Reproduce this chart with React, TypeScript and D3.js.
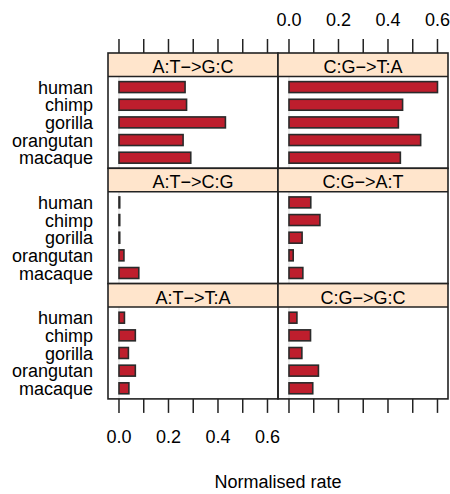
import React, { useEffect, useRef } from 'react'
import * as d3 from 'd3'

const species = ['human', 'chimp', 'gorilla', 'orangutan', 'macaque']
const mutations = ['A:T−>G:C', 'C:G−>T:A', 'A:T−>C:G', 'C:G−>A:T', 'A:T−>T:A', 'C:G−>G:C']
const atToGC = [0.267, 0.273, 0.43, 0.259, 0.29]
const cgToTA = [0.6, 0.459, 0.442, 0.532, 0.45]
const atToCG = [0.003, 0.003, 0.003, 0.02, 0.08]
const cgToAT = [0.088, 0.125, 0.053, 0.017, 0.056]
const atToTA = [0.022, 0.066, 0.038, 0.066, 0.04]
const cgToGC = [0.032, 0.087, 0.052, 0.119, 0.096]
const rates = [atToGC, cgToTA, atToCG, cgToAT, atToTA, cgToGC]
const ticks = [0, 0.1, 0.2, 0.3, 0.4, 0.5, 0.6]
const tickLabels = [0, 0.2, 0.4, 0.6]

function App() {
  const ref = useRef<SVGSVGElement>(null)

  useEffect(() => {
    const svg = d3.select(ref.current)
    svg.selectAll('*').remove()
    const width = 450
    const height = 494
    const left = 108
    const panelW = 170
    const top = 53
    const stripH = 23.5
    const bodyH = 91.8
    const font = 'Liberation Sans, Arial, Helvetica, sans-serif'

    svg.append('rect').attr('width', width).attr('height', height).attr('fill', 'white')

    mutations.forEach((m, i) => {
      const col = i % 2
      const row = Math.floor(i / 2)
      const x0 = left + col * panelW
      const y0 = top + row * (stripH + bodyH)
      const x = d3.scaleLinear().domain([-0.0444, 0.6425]).range([x0, x0 + panelW])
      const y = d3.scaleBand().domain(species).range([y0 + stripH, y0 + stripH + bodyH]).padding(0.4 / 1.04)
      // lattice factor padding: keep band centres at 0.6 + i steps
      const step = bodyH / 5.2
      const cy = (k: number) => y0 + stripH + step * (0.6 + k)
      const g = svg.append('g')

      g.append('rect')
        .attr('x', x0).attr('y', y0).attr('width', panelW).attr('height', stripH)
        .attr('fill', '#ffe5cc')
      g.append('text')
        .attr('x', x0 + panelW / 2).attr('y', y0 + stripH - 3.5)
        .attr('text-anchor', 'middle')
        .style('font-family', font).style('font-size', '18px')
        .text(m)

      g.append('line')
        .attr('x1', x(0)).attr('x2', x(0))
        .attr('y1', y0 + stripH).attr('y2', y0 + stripH + bodyH)
        .attr('stroke', '#e6e6e6').attr('stroke-width', 1.5)

      const bh = step * 0.62
      g.selectAll('rect.bar')
        .data(rates[i])
        .enter()
        .append('rect')
        .attr('class', 'bar')
        .attr('x', x(0))
        .attr('y', (d, k) => cy(k) - bh / 2)
        .attr('width', d => x(d) - x(0))
        .attr('height', bh)
        .attr('fill', '#be1e2d')
        .attr('stroke', '#2a2a2a')
        .attr('stroke-width', 1.6)

      g.append('line')
        .attr('x1', x0).attr('x2', x0 + panelW)
        .attr('y1', y0 + stripH).attr('y2', y0 + stripH)
        .attr('stroke', '#222').attr('stroke-width', 1.5)
      g.append('rect')
        .attr('x', x0).attr('y', y0).attr('width', panelW).attr('height', stripH + bodyH)
        .attr('fill', 'none').attr('stroke', '#222').attr('stroke-width', 1.6)

      if (col === 0) {
        g.selectAll('text.cat')
          .data(species)
          .enter()
          .append('text')
          .attr('x', 93)
          .attr('y', (d, k) => cy(k) + 6.5)
          .attr('text-anchor', 'end')
          .style('font-family', font).style('font-size', '18px')
          .text(d => d)
      }

      if (row === 0 || row === 2) {
        const ty = row === 0 ? y0 : y0 + stripH + bodyH
        const dir = row === 0 ? -1 : 1
        g.selectAll('line.tick')
          .data(ticks)
          .enter()
          .append('line')
          .attr('x1', d => x(d)).attr('x2', d => x(d))
          .attr('y1', ty).attr('y2', ty + dir * 14)
          .attr('stroke', '#222').attr('stroke-width', 1.5)
        if ((row === 0 && col === 1) || (row === 2 && col === 0)) {
          g.selectAll('text.tick')
            .data(tickLabels)
            .enter()
            .append('text')
            .attr('x', d => x(d))
            .attr('y', row === 0 ? 26 : 442.7)
            .attr('text-anchor', 'middle')
            .style('font-family', font).style('font-size', '18px')
            .text(d => d3.format('.1f')(d))
        }
      }
    })

    svg.append('text')
      .attr('x', left + panelW)
      .attr('y', 488)
      .attr('text-anchor', 'middle')
      .style('font-family', font).style('font-size', '18px')
      .text('Normalised rate')
  }, [])

  return (
    <svg ref={ref} width={450} height={494} style={{ position: 'absolute', left: 0, top: 0 }}></svg>
  )
}

export default App
